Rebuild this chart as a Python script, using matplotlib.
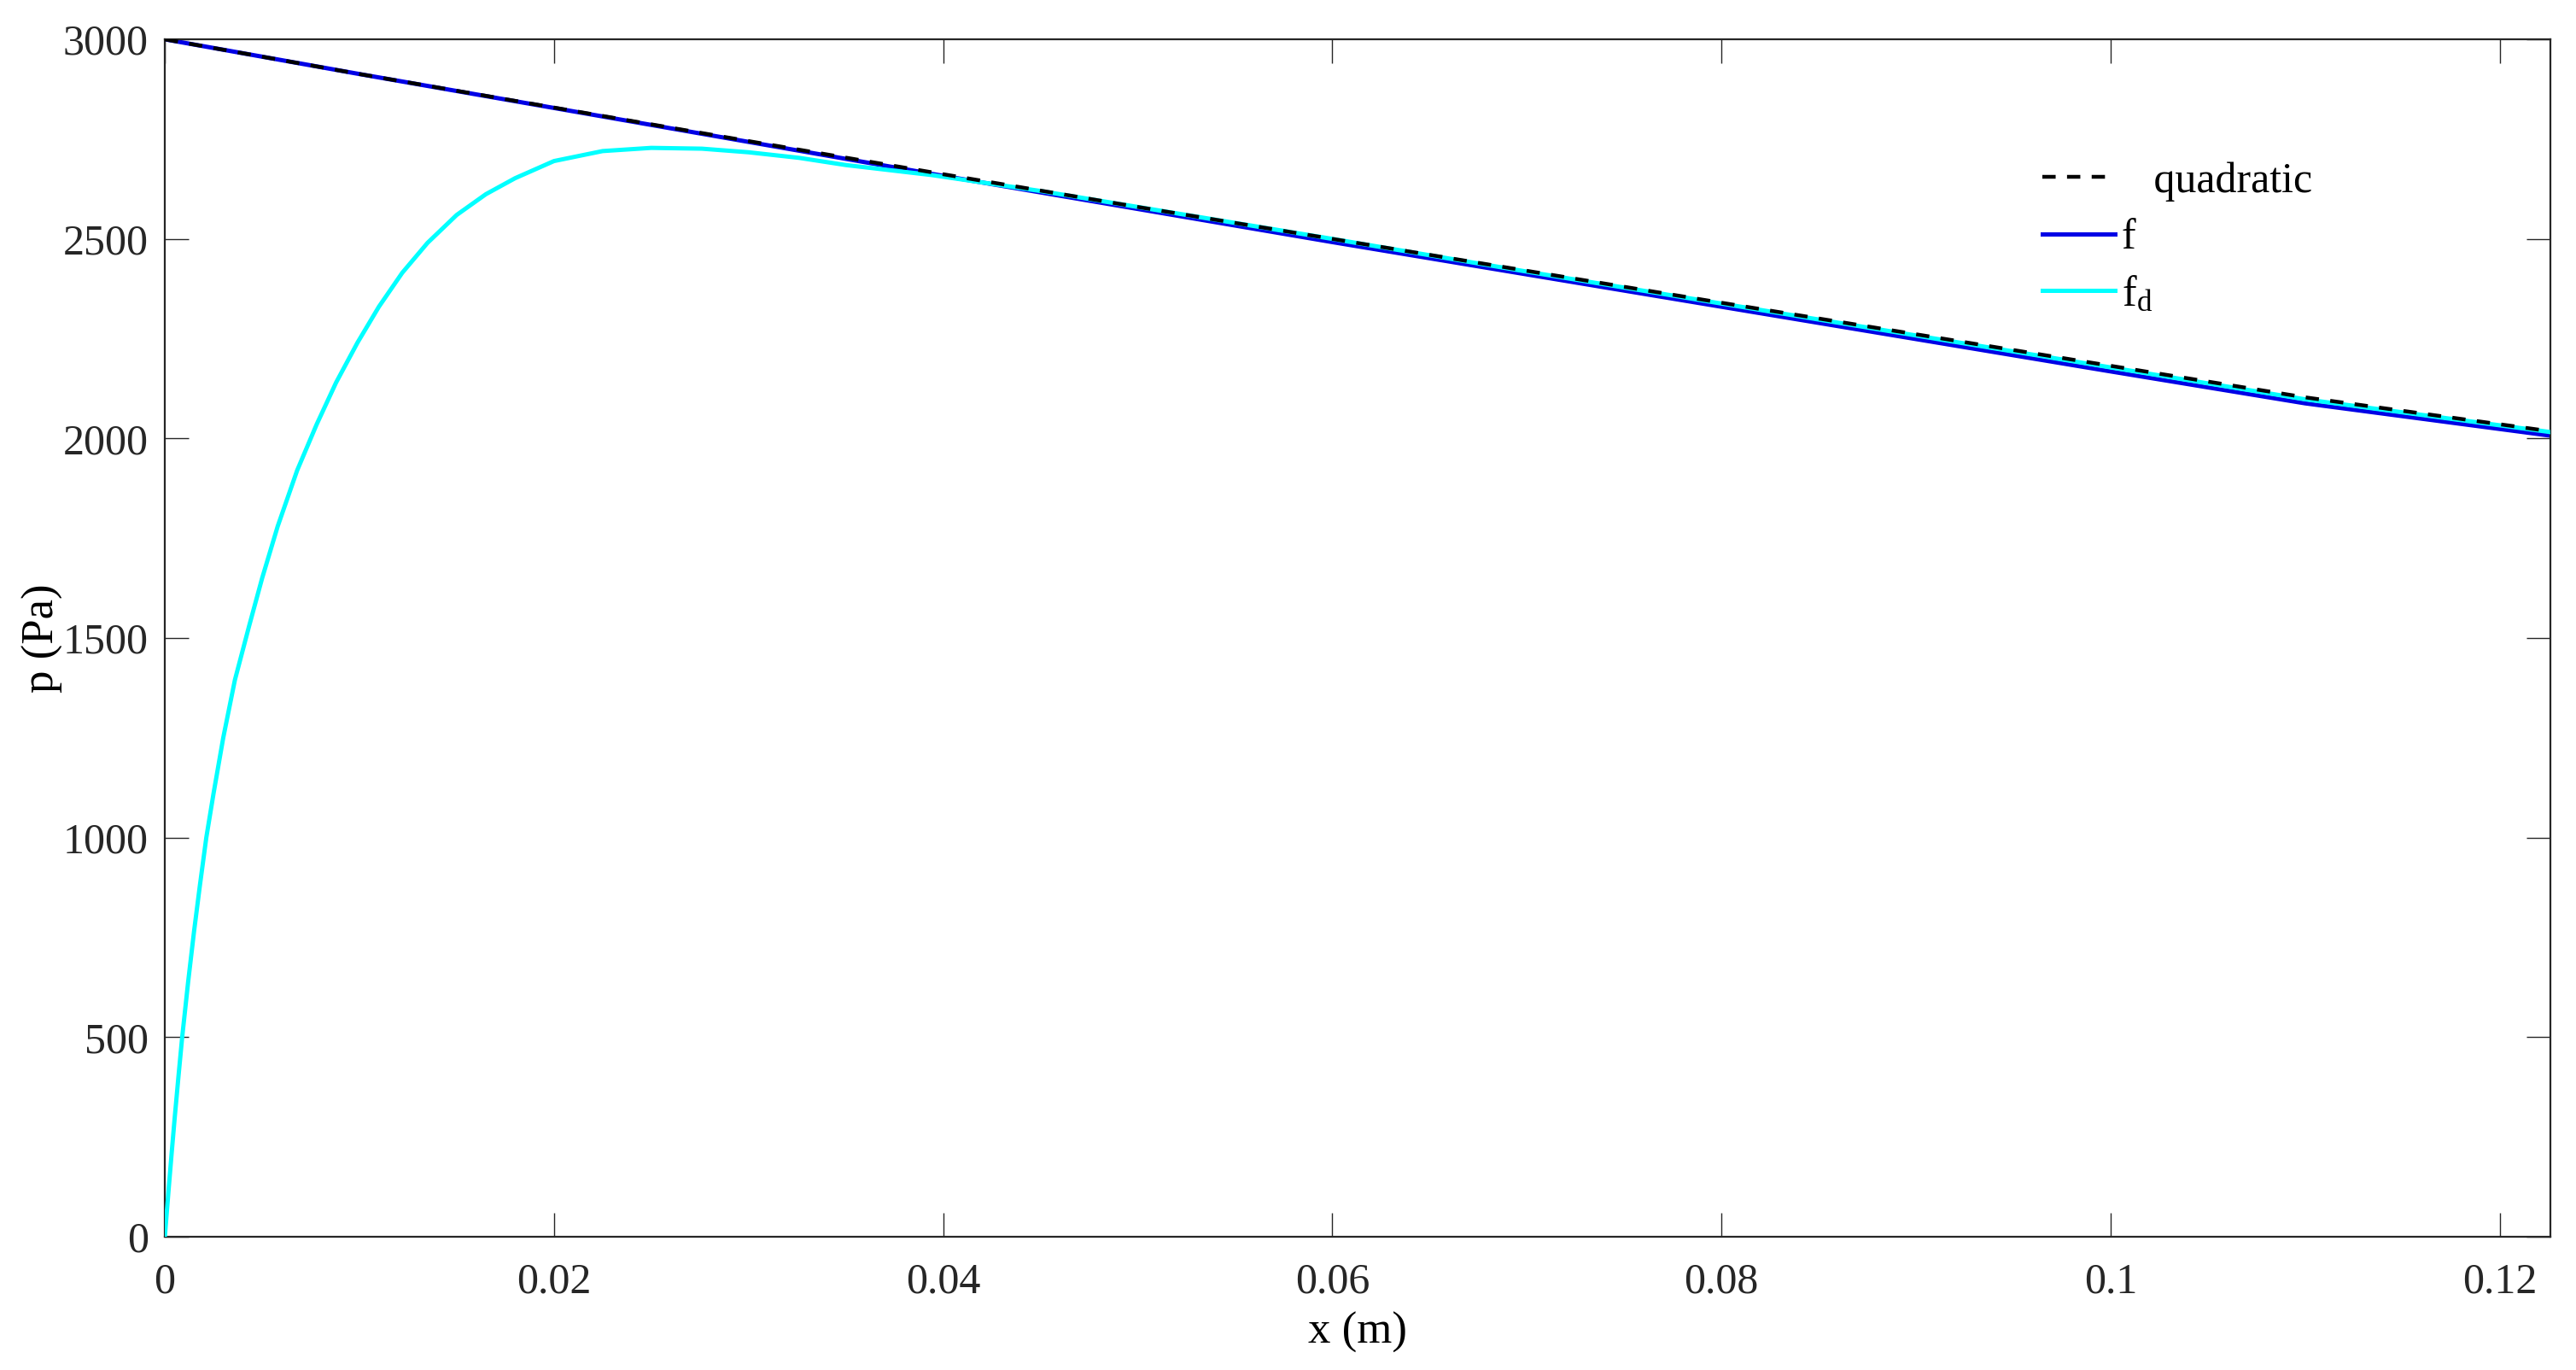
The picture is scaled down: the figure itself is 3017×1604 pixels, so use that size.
import matplotlib
matplotlib.use('Agg')
import matplotlib.pyplot as plt
from matplotlib.ticker import FuncFormatter

plt.rcParams['font.family'] = ['Liberation Serif', 'DejaVu Serif']
plt.rcParams['mathtext.fontset'] = 'custom'
plt.rcParams['mathtext.rm'] = 'Liberation Serif'

# values
x_line = [0, 0.01, 0.02, 0.03, 0.04, 0.05, 0.06, 0.07, 0.08, 0.09, 0.1,
          0.11, 0.1226]
p_f = [3000, 2913, 2828, 2743, 2658, 2575, 2492, 2411, 2330, 2249, 2168,
       2088, 2007]
p_quad = [3000, 2913, 2829, 2745, 2662, 2580, 2500, 2420, 2340, 2261, 2182,
          2103, 2018]

x_fd = [0, 0.0001, 0.0002, 0.00035, 0.0005, 0.0007, 0.00089, 0.0012, 0.0015,
        0.0018, 0.00213, 0.0025, 0.003, 0.0036, 0.00433, 0.005, 0.0058,
        0.0068, 0.0078, 0.0088, 0.0099, 0.011, 0.0122, 0.0135, 0.015, 0.0165,
        0.018, 0.020, 0.0225, 0.025, 0.0276, 0.030, 0.0326, 0.035, 0.0394,
        0.045, 0.05, 0.06, 0.07, 0.08, 0.09, 0.1, 0.11, 0.1226]
p_fd = [0, 62, 122, 210, 295, 402, 500, 640, 765, 880, 1000, 1110, 1250,
        1395, 1530, 1650, 1780, 1920, 2035, 2140, 2240, 2330, 2415, 2490,
        2560, 2612, 2652, 2695, 2720, 2728, 2726, 2717, 2703, 2685, 2660,
        2620, 2580, 2500, 2418, 2338, 2258, 2178, 2098, 2016]

x_ticks = [0, 0.02, 0.04, 0.06, 0.08, 0.1, 0.12]
y_ticks = [0, 500, 1000, 1500, 2000, 2500, 3000]

fig = plt.figure(figsize=(30.17, 16.04), dpi=100)
ax = fig.add_axes([0.064, 0.0973, 0.926, 0.874])

line_f, = ax.plot(x_line, p_f, color='#0000e6', lw=3.6, zorder=2)
line_fd, = ax.plot(x_fd, p_fd, color='#00ffff', lw=3.6, zorder=3)
line_q, = ax.plot(x_line, p_quad, color='k', lw=3.2, linestyle=(0, (3.5, 3.0)),
                  zorder=4)

ax.set_xlim(0, 0.1226)
ax.set_ylim(0, 3000)
ax.set_xticks(x_ticks)
ax.set_yticks(y_ticks)
ax.xaxis.set_major_formatter(FuncFormatter(lambda v, pos: '%g' % v))
ax.tick_params(direction='in', length=20, width=1.0, top=True, right=True,
               labelsize=36, colors='#262626', pad=14)
ax.tick_params(axis='x', pad=22)
for s in ax.spines.values():
    s.set_linewidth(1.6)
    s.set_color('#262626')

ax.set_xlabel('x (m)', fontsize=38, labelpad=8)
ax.set_ylabel('p (Pa)', fontsize=38, labelpad=0)

ax.legend(handles=[line_q, line_f, line_fd],
          labels=['   quadratic', 'f', r'$\mathregular{f_d}$'],
          frameon=False, fontsize=36, handlelength=1.7, handletextpad=0.15,
          labelspacing=0.4, loc='upper left', bbox_to_anchor=(0.771, 0.93))

fig.savefig('out.png', dpi=100)
